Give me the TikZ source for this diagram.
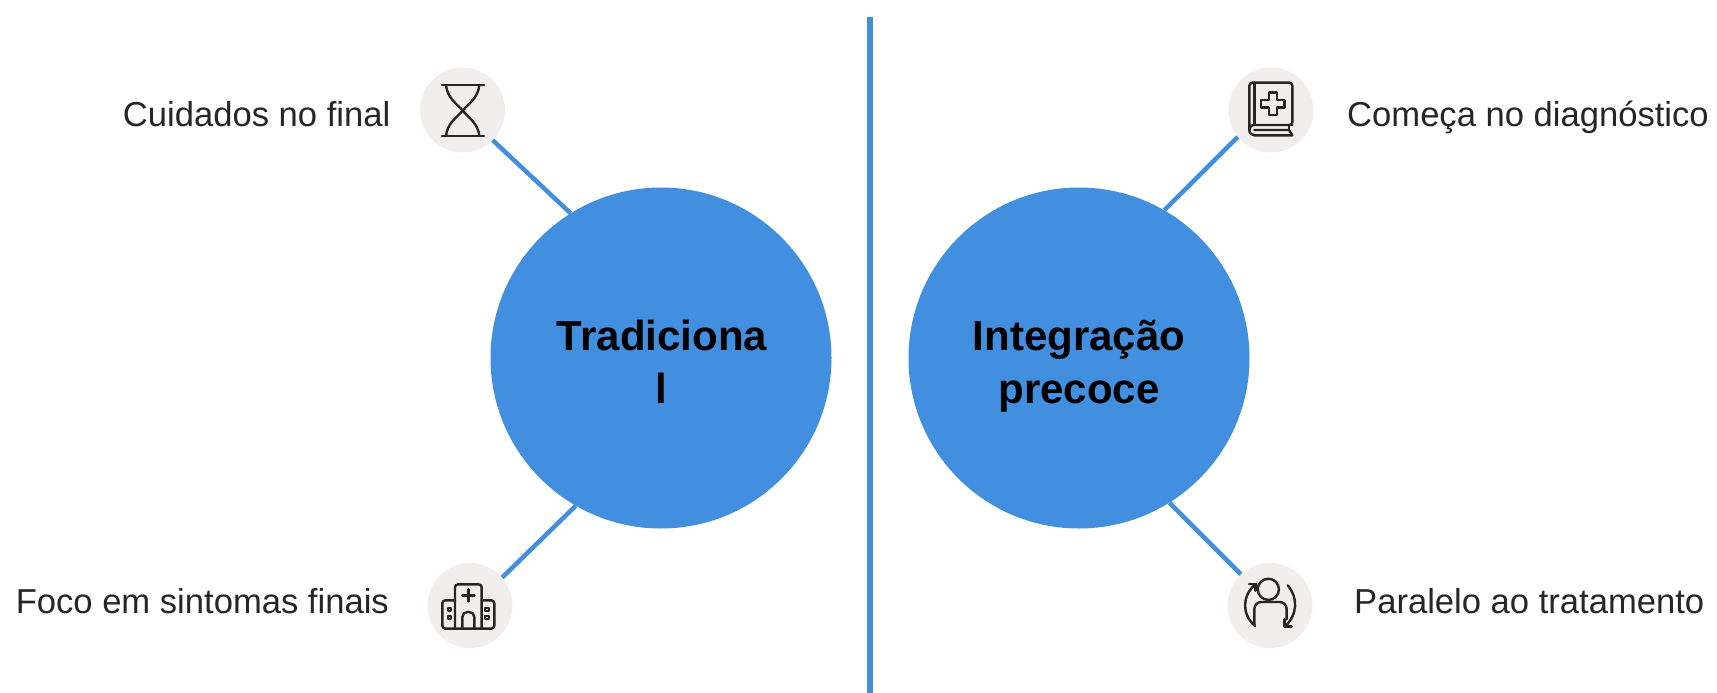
\documentclass[tikz,border=0pt]{standalone}
\usepackage{fontspec}
\setmainfont{Liberation Sans}
\definecolor{mainblue}{HTML}{428FE0}
\definecolor{iconbg}{HTML}{F1EEED}
\definecolor{ink}{HTML}{262626}
\tikzset{
  big/.style={circle,fill=mainblue,minimum size=341pt,inner sep=0pt},
  iconc/.style={circle,fill=iconbg,minimum size=85pt,inner sep=0pt},
  link/.style={draw=mainblue,line width=4.5pt},
  divider/.style={draw=mainblue,line width=6pt},
  lab/.style={font=\fontsize{34.6pt}{40pt}\selectfont,text=ink,inner sep=0pt},
  head/.style={font=\fontsize{42pt}{53pt}\selectfont\bfseries,text=black,inner sep=0pt,align=center},
  glyph/.style={draw=ink,line width=2.4pt,line cap=round,line join=round},
  glyphscope/.style={x=0.3333pt,y=-0.3333pt}
}
\begin{document}
\begin{tikzpicture}[x=1pt,y=-1pt]
\useasboundingbox (0,0) rectangle (1717,693);
\node[big] (trad) at (661,358) {};
\node[big] (prec) at (1079,358) {};
\node[iconc] (hour) at (462.5,110) {};
\node[iconc] (hosp) at (470,605.5) {};
\node[iconc] (book) at (1271,110) {};
\node[iconc] (pers) at (1270,605.5) {};
\coordinate (dtop) at (869.5,17);
\coordinate (dbot) at (869.5,693);
\draw[divider] (dtop) -- (dbot);
\draw[link] (hour.-45) -- (trad.122.3);
\draw[link] (hosp.41) -- (trad.240);
\draw[link] (book.219) -- (prec.60.7);
\draw[link] (pers.133.6) -- (prec.-58.6);
\node[head,anchor=base] (t1) at (662,350) {Tradiciona};
\node[head,anchor=base] (t2) at (661.5,403) {l};
\node[head,anchor=base] (p1) at (1079,350) {Integração};
\node[head,anchor=base] (p2) at (1079,403) {precoce};
\node[lab,anchor=base east] (l1) at (390.5,126) {Cuidados no final};
\node[lab,anchor=base east] (l2) at (389,613) {Foco em sintomas finais};
\node[lab,anchor=base west] (l3) at (1347,126) {Começa no diagnóstico};
\node[lab,anchor=base west] (l4) at (1354,613) {Paralelo ao tratamento};
% hourglass
\begin{scope}[shift={(410,60)},glyphscope]
\draw[glyph] (96,75) -- (222,75) (96,228) -- (222,228);
\draw[glyph] (108,75) .. controls (112,115) and (140,130) .. (158,152) .. controls (178,175) and (204,190) .. (208,228);
\draw[glyph] (208,75) .. controls (204,115) and (176,130) .. (158,152) .. controls (138,175) and (112,190) .. (108,228);
\end{scope}
% hospital
\begin{scope}[shift={(415,556)},glyphscope]
\draw[glyph,rounded corners=3pt] (120,218) -- (120,85) -- (200,85) -- (200,218);
\draw[glyph,rounded corners=3pt] (120,133) -- (82,133) -- (82,218) -- (238,218) -- (238,133) -- (200,133);
\draw[glyph] (142,118) -- (178,118) (160,100) -- (160,136);
\draw[glyph,rounded corners=5pt] (142,218) -- (142,168) -- (178,168) -- (178,218);
\foreach \wx/\wy in {103/160,103/184,216/160,216/184}
  \draw[glyph,line width=2pt] (\wx-5,\wy-5) rectangle (\wx+5,\wy+5);
\end{scope}
% book
\begin{scope}[shift={(1215,60)},glyphscope]
\draw[glyph,rounded corners=3pt] (222,195) -- (232,195) -- (232,68) -- (103,68) -- (103,210);
\draw[glyph] (118,68) -- (118,195);
\draw[glyph] (232,195) -- (118,195) .. controls (108,195) and (103,202) .. (103,210) .. controls (103,220) and (110,226) .. (118,226) -- (232,226) -- (222,210) -- (118,210);
\draw[glyph] (222,195) -- (222,210);
\draw[glyph] (162,98) -- (186,98) -- (186,120) -- (208,120) -- (208,143) -- (186,143) -- (186,165) -- (162,165) -- (162,143) -- (138,143) -- (138,120) -- (162,120) -- cycle;
\end{scope}
% person
\begin{scope}[shift={(1215,556)},glyphscope]
\draw[glyph] (160,100) circle[radius=10.6pt];
\draw[glyph,rounded corners=7pt] (118,208) -- (118,138) -- (215,138) -- (215,190);
\draw[glyph] (120,210) .. controls (80,175) and (80,120) .. (122,84);
\draw[glyph] (102,84) -- (122,84) -- (122,104);
\draw[glyph] (218,88) .. controls (250,125) and (248,175) .. (210,212);
\draw[glyph] (208,190) -- (208,212) -- (230,212);
\end{scope}
\end{tikzpicture}
\end{document}
